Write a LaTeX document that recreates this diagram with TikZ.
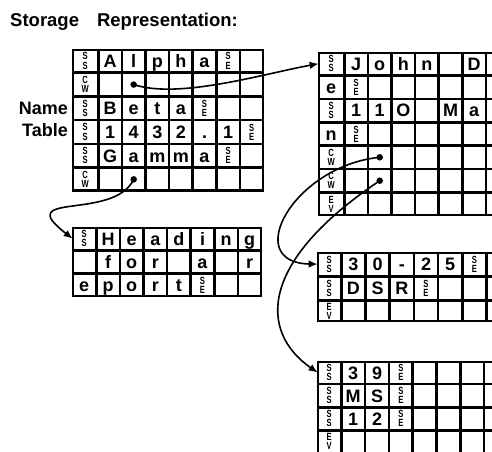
\documentclass[tikz,border=0pt]{standalone}
\usepackage{fontspec}
\setmainfont{Liberation Sans}
\usepackage{graphicx}
\usetikzlibrary{matrix,arrows.meta}

% small stacked tag letters in a cell
\newcommand\tagletter[1]{\hbox to 8pt{\hss\scalebox{0.95}[1.3]{#1}\hss}}
\newcommand\tg[2]{\vbox to 12.9pt{\fontsize{8}{8}\selectfont\bfseries\offinterlineskip\vss\tagletter{#1}\kern1.8pt\tagletter{#2}\vss}}

\begin{document}
\begin{tikzpicture}[
    x=1pt, y=-1pt,
    cell/.style={draw, line width=1.3pt, minimum width=22.3pt, minimum height=22.4pt, inner sep=0pt, outer sep=0pt, text height=12.9pt, text depth=0pt, font=\bfseries\fontsize{18}{18}\selectfont},
    tbl/.style={matrix of nodes, nodes in empty cells, inner sep=0pt, outer sep=0pt, row sep=0pt, column sep=0pt, nodes={cell}, anchor=north west},
    frame/.style={draw, line width=2.2pt},
    ptr/.style={circle, fill, inner sep=0pt, minimum size=6.5pt},
    link/.style={-{Latex[length=9pt,width=7.5pt]}, line width=1.6pt},
    lbl/.style={font=\bfseries\fontsize{18}{22}\selectfont, inner sep=0pt}
  ]
  \useasboundingbox (0,0) rectangle (492,451);
  \clip (0,0) rectangle (492,451);

  \node[lbl, anchor=base west, font=\bfseries\fontsize{18.5}{20}\selectfont] (title) at (10,26) {Storage\hspace{18pt}Representation:};
  \node[lbl, anchor=east, align=right] (name) at (68,119.5) {Name\\Table};

  % name table
  \matrix[tbl, column 1/.style={nodes={minimum width=25pt}}] (nt) at (72,49) {
    \tg SS & A & l & p & h & a & \tg SE & \\
    \tg CW & & & & & & & \\
    \tg SS & B & e & t & a & \tg SE & & \\
    \tg SS & 1 & 4 & 3 & 2 & . & 1 & \tg SE \\
    \tg SS & G & a & m & m & a & \tg SE & \\
    \tg CW & & & & & & & \\
  };
  \draw[frame] (nt-1-1.north west) rectangle (nt-6-8.south east);

  % heading string
  \matrix[tbl, column 1/.style={nodes={minimum width=23pt}}, nodes={minimum height=22pt}] (hd) at (72,227) {
    \tg SS & H & e & a & d & i & n & g \\
    & f & o & r & & a & & r \\
    e & p & o & r & t & \tg SE & & \\
  };
  \draw[frame] (hd-1-1.north west) rectangle (hd-3-8.south east);

  % record
  \matrix[tbl, column 1/.style={nodes={minimum width=25pt}}, nodes={minimum height=22.1pt}] (jd) at (318,52) {
    \tg SS & J & o & h & n & & D & o \\
    e & \tg SE & & & & & & \\
    \tg SS & 1 & 1 & O & & M & a & i \\
    n & \tg SE & & & & & & \\
    \tg CW & & & & & & & \\
    \tg CW & & & & & & & \\
    \tg EV & & & & & & & \\
  };
  \draw[frame] (jd-1-1.north west) rectangle (jd-7-8.south east);

  \matrix[tbl, column 1/.style={nodes={minimum width=23pt}}, nodes={minimum width=22.9pt, minimum height=23pt}, row 3/.style={nodes={minimum height=20pt}}] (md) at (317,252) {
    \tg SS & 3 & 0 & - & 2 & 5 & \tg SE & \\
    \tg SS & D & S & R & \tg SE & & & \\
    \tg EV & & & & & & & \\
  };
  \draw[frame] (md-1-1.north west) rectangle (md-3-8.south east);

  \matrix[tbl, column 1/.style={nodes={minimum width=23pt}}, nodes={minimum width=22.5pt, minimum height=21.8pt}] (bt) at (317,361) {
    \tg SS & 3 & 9 & \tg SE & & & & \\
    \tg SS & M & S & \tg SE & & & & \\
    \tg SS & 1 & 2 & \tg SE & & & & \\
    \tg EV & & & & & & & \\
  };
  \draw[frame] (bt-1-1.north west) rectangle (bt-4-8.south east);

  % pointers
  \node[ptr] (p1) at (nt-2-3) {};
  \node[ptr] (p2) at (nt-6-3) {};
  \node[ptr] (p3) at (jd-5-3) {};
  \node[ptr] (p4) at (jd-6-3) {};

  \draw[link] (p1.center) .. controls +(45,15) and +(-55,10) .. (jd-1-1.west);
  \draw[link] (p2.center) .. controls +(-20,42) and +(-62,-48) .. (hd-1-1.west);
  \draw[link] (p3.center) .. controls +(-86,8.5) and +(-77,-1.5) .. (md-1-1.west);
  \draw[link] (p4.center) .. controls +(-121,81) and +(-59,-41) .. (bt-1-1.west);
\end{tikzpicture}
\end{document}
